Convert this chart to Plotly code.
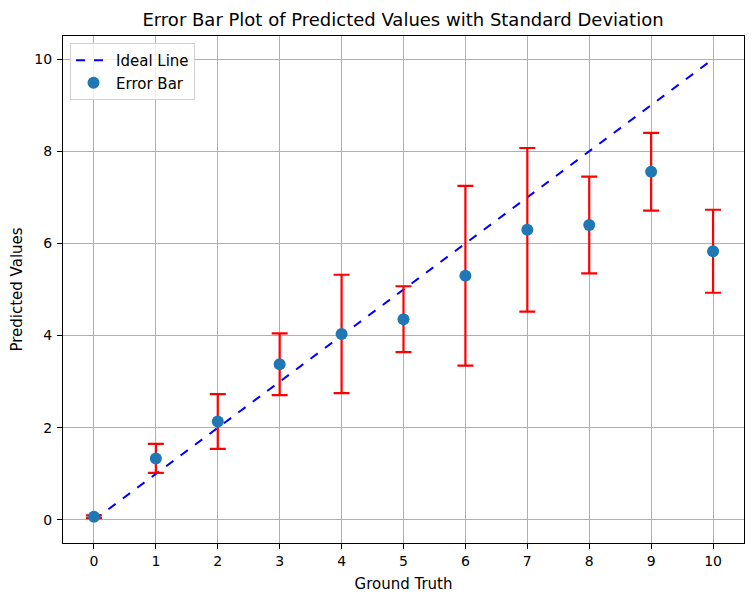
import plotly.graph_objects as go

ground_truth = [0, 1, 2, 3, 4, 5, 6, 7, 8, 9, 10]
pred_mean = [0.07, 1.335, 2.135, 3.38, 4.035, 4.355, 5.30, 6.295, 6.40, 7.555, 5.83]
pred_std = [0.03, 0.315, 0.595, 0.67, 1.285, 0.715, 1.95, 1.775, 1.05, 0.845, 0.90]
ideal_x = [0, 10]
ideal_y = [0, 10]
tick_vals_x = list(range(0, 11))
tick_vals_y = [0, 2, 4, 6, 8, 10]

fig = go.Figure()
fig.add_trace(go.Scatter(
    x=ideal_x, y=ideal_y, mode="lines", name="Ideal Line",
    line=dict(color="blue", dash="dash", width=2),
))
fig.add_trace(go.Scatter(
    x=ground_truth, y=pred_mean, mode="markers", name="Error Bar",
    marker=dict(color="#1f77b4", size=12),
    error_y=dict(type="data", array=pred_std, visible=True,
                 color="red", thickness=2.2, width=8),
))

axis_common = dict(
    showline=True, linecolor="black", linewidth=1, mirror=True,
    ticks="outside", ticklen=5, tickcolor="black",
    showgrid=True, gridcolor="#b0b0b0", gridwidth=1,
    zeroline=False, tickfont=dict(size=14, color="black"),
    automargin=False,
)
fig.update_xaxes(range=[-0.5, 10.5], tickvals=tick_vals_x,
                 title=dict(text="Ground Truth", font=dict(size=15, color="black"), standoff=10),
                 **axis_common)
fig.update_yaxes(range=[-0.5, 10.5], tickvals=tick_vals_y, ticklabelstandoff=2,
                 title=dict(text="Predicted Values", font=dict(size=15, color="black"), standoff=12),
                 **axis_common)

# page body has an 8px margin, so the figure is sized/offset to compensate
fig.update_layout(
    width=746, height=593,
    margin=dict(l=55, r=10, t=28, b=58, autoexpand=False),
    paper_bgcolor="white", plot_bgcolor="white",
    font=dict(family="DejaVu Sans", color="black"),
    title=dict(text="Error Bar Plot of Predicted Values with Standard Deviation",
               x=0.5295, xanchor="center", y=0.981, yanchor="middle",
               font=dict(size=18, color="black"), automargin=False),
    legend=dict(x=0.0103, y=0.986, xanchor="left", yanchor="top",
                bordercolor="#d0d0d0", borderwidth=1, bgcolor="rgba(255,255,255,0.8)",
                font=dict(size=15), itemwidth=35),
    showlegend=True,
)

fig.write_html("out.html")
